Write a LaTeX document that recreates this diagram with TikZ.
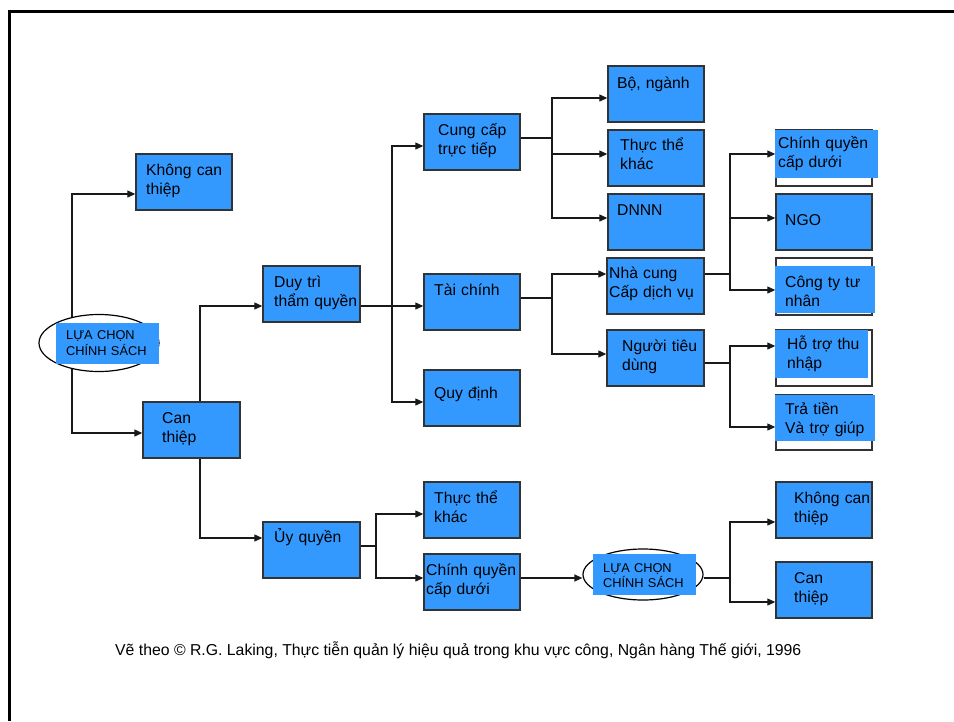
\documentclass[tikz,border=0pt]{standalone}
\usepackage{fontspec}
\setmainfont{Liberation Sans}
\usetikzlibrary{arrows.meta,shapes.geometric,backgrounds}
\definecolor{boxblue}{HTML}{3399FF}
\definecolor{edge}{HTML}{333333}
\begin{document}
\begin{tikzpicture}[x=1pt,y=-1pt,
  box/.style={draw=edge,line width=1.4pt,fill=boxblue,minimum width=96,minimum height=56,inner sep=0},
  obox/.style={draw=edge,line width=1.4pt,fill=white,minimum width=96,minimum height=56,inner sep=0},
  lbl/.style={inner sep=0,anchor=base west,text width=110pt,align=left,font=\fontsize{15.7}{19.5}\selectfont},
  slbl/.style={inner sep=0,anchor=base west,text width=100pt,align=left,font=\fontsize{12.8}{16}\selectfont},
  arr/.style={draw=black!90,line width=1.2pt,-{Triangle[length=8pt,width=7pt]}},
  ln/.style={draw=black!90,line width=1.2pt},
  oval/.style={ellipse,draw=black,line width=1.2pt,fill=white,inner sep=0}]
\useasboundingbox (0,0) rectangle (954,721);
\draw[line width=3pt] (9.5,721) -- (9.5,11.5) -- (954,11.5);

% ellipses
\node[oval,minimum width=120,minimum height=57] (lc) at (99,343) {};
\fill[boxblue] (56,323) rectangle (159,364);
\node[slbl] (tlc) at (66,339) {LỰA CHỌN\\CHÍNH SÁCH};
\node[oval,minimum width=120,minimum height=51] (le) at (643,574.5) {};
\fill[boxblue] (593,554) rectangle (696,595);
\node[slbl,font=\fontsize{12.8}{15}\selectfont] (tle) at (603,572) {LỰA CHỌN\\CHÍNH SÁCH};

% boxes
\node[box] (knc1) at (184,182) {};
\node[box,minimum width=97] (ct) at (191.5,430) {};
\node[box,minimum width=97] (dt) at (311.5,294) {};
\node[box,minimum width=97] (uq) at (311.5,550) {};
\node[box] (cc) at (472,142) {};
\node[box] (tc) at (472,302) {};
\node[box] (qd) at (472,398) {};
\node[box] (tt2) at (472,510) {};
\node[box] (cq2) at (472,582) {};
\node[box] (bo) at (656,94) {};
\node[box] (tt1) at (656,158) {};
\node[box] (dnnn) at (656,222) {};
\node[box,minimum width=97] (nc) at (655.5,286) {};
\node[box,minimum width=97] (ntd) at (655.5,358) {};
\node[obox] (cq1) at (824,158) {};
\fill[boxblue] (775,130) rectangle (878,178);
\node[box] (ngo) at (824,222) {};
\node[obox,minimum height=57] (cty) at (824,286.5) {};
\fill[boxblue] (775,266) rectangle (875,313);
\node[obox] (ho) at (824,358) {};
\fill[boxblue] (775,330) rectangle (868,378);
\node[obox,minimum height=55] (tra) at (824,422.5) {};
\fill[boxblue] (775,395) rectangle (875,441);
\node[box] (knc2) at (824,510) {};
\node[box] (ct2) at (824,590) {};

% texts
\node[lbl] (t1) at (146,175) {Không can\\thiệp};
\node[lbl] (t2) at (274,287) {Duy trì\\thẩm quyền};
\node[lbl] (t3) at (162,423) {Can\\thiệp};
\node[lbl] (t4) at (274,542) {Ủy quyền};
\node[lbl] (t5) at (438,135) {Cung cấp\\trực tiếp};
\node[lbl] (t6) at (434,295) {Tài chính};
\node[lbl] (t7) at (434,398) {Quy định};
\node[lbl] (t8) at (434,503) {Thực thể\\khác};
\node[lbl] (t9) at (426,575) {Chính quyền\\cấp dưới};
\node[lbl] (t10) at (617,88) {Bộ, ngành};
\node[lbl] (t11) at (620,150) {Thực thể\\khác};
\node[lbl] (t12) at (617,215) {DNNN};
\node[lbl] (t13) at (609,278) {Nhà cung\\Cấp dịch vụ};
\node[lbl] (t14) at (622,351) {Người tiêu\\dùng};
\node[lbl] (t15) at (778,148) {Chính quyền\\cấp dưới};
\node[lbl] (t16) at (785,225) {NGO};
\node[lbl] (t17) at (785,287) {Công ty tư\\nhân};
\node[lbl] (t18) at (787,349) {Hỗ trợ thu\\nhập};
\node[lbl] (t19) at (785,414) {Trả tiền\\Và trợ giúp};
\node[lbl] (t20) at (794,503) {Không can\\thiệp};
\node[lbl] (t21) at (794,583) {Can\\thiệp};
\node[inner sep=0,anchor=base west,font=\fontsize{15.8}{18}\selectfont] (foot) at (115,655) {Vẽ theo © R.G. Laking, Thực tiễn quản lý hiệu quả trong khu vực công, Ngân hàng Thế giới, 1996};

% connectors
\begin{pgfonlayer}{background}
\coordinate (j0) at (72,343);
\draw[arr] (j0) |- ([yshift=-12pt]knc1.west);
\draw[arr] (j0) |- ([yshift=-3pt]ct.west);
\coordinate (j1) at (200,430);
\draw[arr] (j1) |- ([yshift=-12pt]dt.west);
\draw[arr] (j1) |- ([yshift=12pt]uq.west);
\coordinate (j2) at (392,306);
\draw[ln] ([yshift=-12pt]dt.east) -- (j2);
\draw[arr] (j2) |- ([yshift=-4pt]cc.west);
\draw[arr] (j2) -- ([yshift=-4pt]tc.west);
\draw[arr] (j2) |- ([yshift=-4pt]qd.west);
\coordinate (j3) at (552,138);
\draw[ln] ([yshift=4pt]cc.east) -- (j3);
\draw[arr] (j3) |- ([yshift=-4pt]bo.west);
\draw[arr] (j3) |- ([yshift=4pt]tt1.west);
\draw[arr] (j3) |- ([yshift=4pt]dnnn.west);
\coordinate (j4) at (552,298);
\draw[ln] ([yshift=4pt]tc.east) -- (j4);
\draw[arr] (j4) |- ([yshift=12pt]nc.west);
\draw[arr] (j4) |- ([yshift=4pt]ntd.west);
\coordinate (j5) at (730,274);
\draw[ln] ([yshift=12pt]nc.east) -- (j5);
\draw[arr] (j5) |- ([yshift=4pt]cq1.west);
\draw[arr] (j5) |- ([yshift=4pt]ngo.west);
\draw[arr] (j5) |- ([yshift=-3.5pt]cty.west);
\coordinate (j6) at (730,363);
\draw[ln] ([yshift=-5pt]ntd.east) -- (j6);
\draw[arr] (j6) |- ([yshift=12pt]ho.west);
\draw[arr] (j6) |- ([yshift=-4.5pt]tra.west);
\coordinate (j7) at (376,546);
\draw[ln] ([yshift=4pt]uq.east) -- (j7);
\draw[arr] (j7) |- ([yshift=-4pt]tt2.west);
\draw[arr] (j7) |- ([yshift=4pt]cq2.west);
\draw[arr] ([yshift=4pt]cq2.east) -- ([yshift=-3.5pt]le.west);
\coordinate (j8) at (730,578);
\draw[ln] ([yshift=-3.5pt]le.east) -- (j8);
\draw[arr] (j8) |- ([yshift=-12pt]knc2.west);
\draw[arr] (j8) |- ([yshift=-12pt]ct2.west);
\end{pgfonlayer}
\end{tikzpicture}
\end{document}
